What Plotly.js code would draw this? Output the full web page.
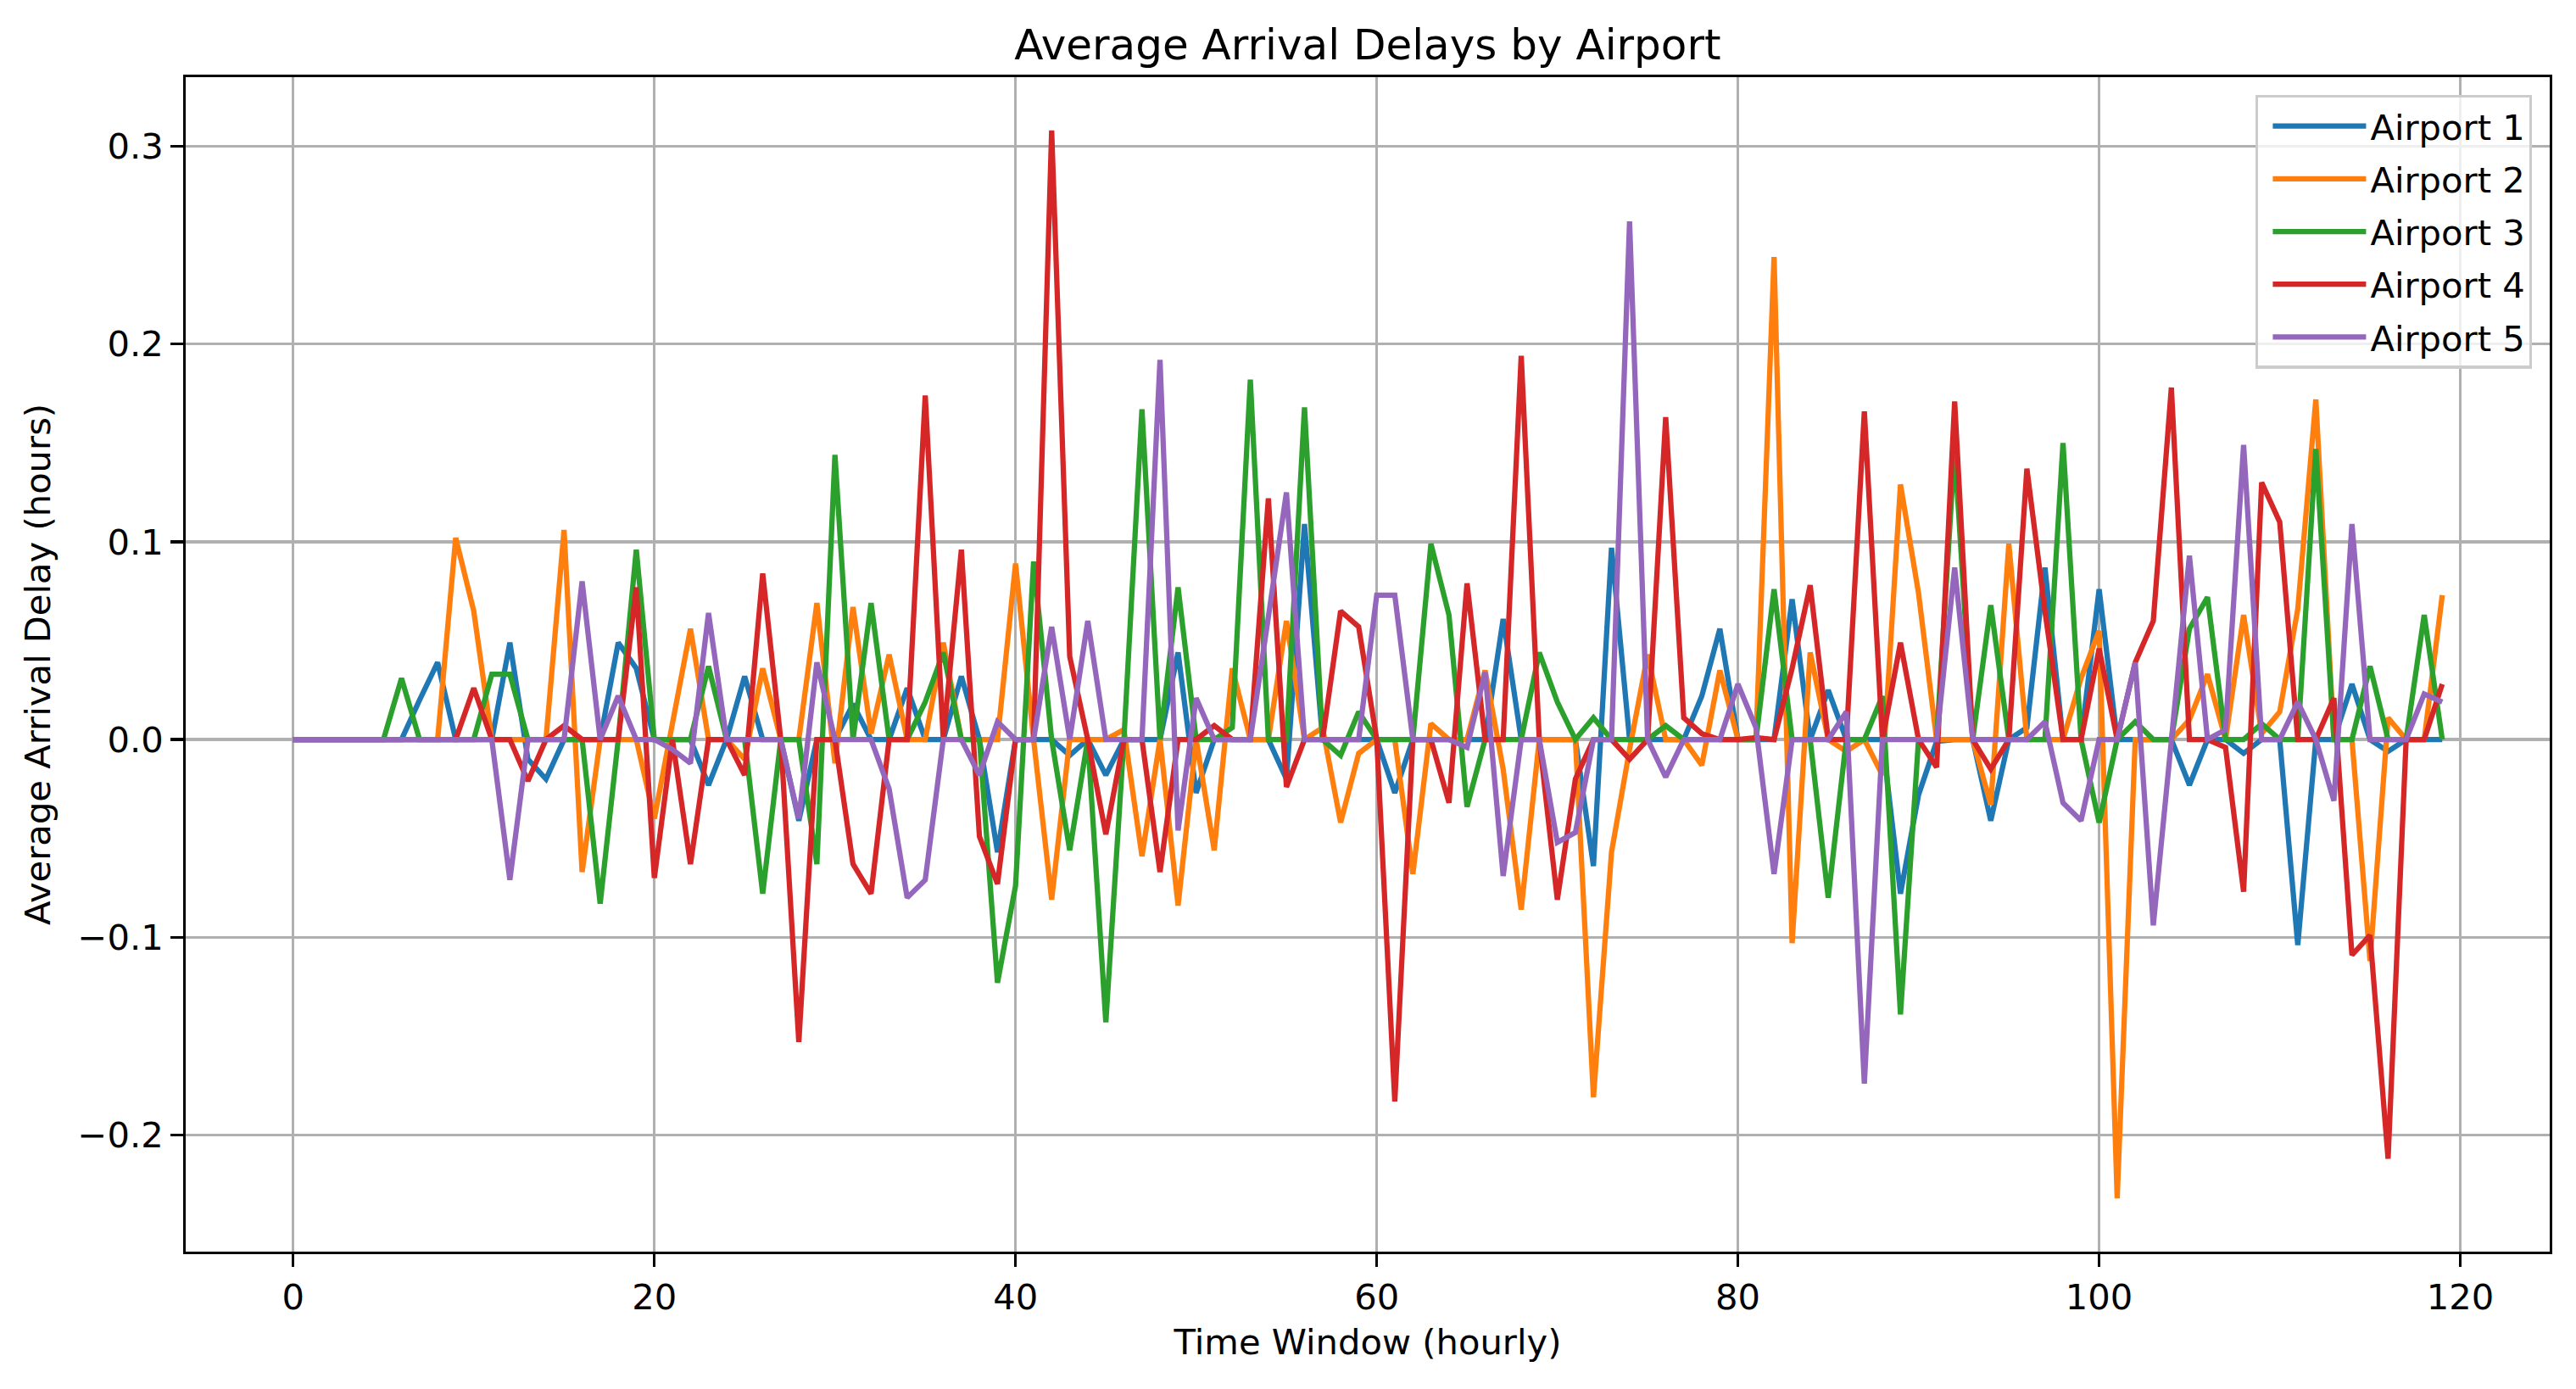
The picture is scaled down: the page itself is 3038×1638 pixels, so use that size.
<!DOCTYPE html>
<html>
<head>
<meta charset="utf-8">
<script src="https://cdn.plot.ly/plotly-3.0.1.min.js"></script>
<style>
  html, body { margin: 0; padding: 0; background: #ffffff; }
  #chart { width: 3038px; height: 1638px; }
</style>
</head>
<body>
<div id="chart"></div>
<script>
// Hourly time windows 0..119
const hours = Array.from({ length: 120 }, (_, i) => i);

const airportNames = ["Airport 1", "Airport 2", "Airport 3", "Airport 4", "Airport 5"];
const airportColors = ["#1f77b4", "#ff7f0e", "#2ca02c", "#d62728", "#9467bd"];

// Average arrival delay (hours) per time window
const airport1 = [
  0, 0, 0, 0, 0, 0, 0, 0.020, 0.039, 0,
  0, 0, 0.049, -0.010, -0.020, 0, 0, 0, 0.049, 0.036,
  0, 0, 0, -0.023, 0, 0.032, 0, 0, -0.041, 0,
  0, 0.018, 0, 0, 0.026, 0, 0, 0.032, 0, -0.057,
  0, 0, 0, -0.008, 0, -0.018, 0, 0, 0, 0.044,
  -0.027, 0, 0, 0, 0, -0.020, 0.109, 0, 0, 0,
  0, -0.027, 0, 0, 0, 0, 0, 0.061, 0, 0,
  0, 0, -0.064, 0.097, 0, 0, 0, 0, 0.022, 0.056,
  0, 0, 0, 0.071, 0, 0.025, 0, 0, 0, -0.078,
  -0.028, -0.001, 0, 0, -0.041, 0, 0.006, 0.087, 0, 0,
  0.076, 0, 0, 0, 0, -0.023, 0, 0, -0.007, 0,
  0, -0.104, 0, 0, 0.028, 0, -0.006, 0, 0, 0
];

const airport2 = [
  0, 0, 0, 0, 0, 0, 0, 0, 0, 0.102,
  0.065, 0, 0, 0, 0, 0.106, -0.067, 0, 0, 0,
  -0.040, 0.008, 0.056, 0, 0, -0.010, 0.036, 0, 0, 0.069,
  -0.012, 0.067, 0.003, 0.043, 0, 0, 0.049, 0, 0, 0,
  0.089, 0, -0.081, 0, 0, 0, 0.005, -0.059, 0, -0.084,
  0, -0.056, 0.036, 0, 0, 0.060, 0, 0.006, -0.042, -0.007,
  0, 0, -0.068, 0.008, 0, 0, 0.035, -0.015, -0.086, 0,
  0, 0, -0.181, -0.057, -0.005, 0.043, 0, 0, -0.013, 0.035,
  0, 0, 0.244, -0.103, 0.044, 0, -0.006, 0, -0.018, 0.129,
  0.074, 0, 0, 0, -0.033, 0.099, 0, 0, 0, 0.031,
  0.055, -0.232, 0, 0, 0, 0.010, 0.033, 0, 0.063, 0.003,
  0.014, 0.066, 0.172, 0, 0, -0.112, 0.011, 0, 0, 0.073
];

const airport3 = [
  0, 0, 0, 0, 0, 0, 0.031, 0, 0, 0,
  0, 0.033, 0.033, 0, 0, 0, 0, -0.083, 0, 0.096,
  0, 0, 0, 0.037, 0, 0, -0.078, 0, 0, -0.063,
  0.144, 0, 0.069, 0, 0, 0.019, 0.044, 0, 0, -0.123,
  -0.074, 0.090, 0, -0.056, 0, -0.143, 0, 0.167, 0, 0.077,
  0, 0, 0.006, 0.182, 0, 0, 0.168, 0, -0.008, 0.014,
  0, 0, 0, 0.099, 0.063, -0.034, 0, 0, 0, 0.044,
  0.019, 0, 0.011, 0, 0, 0, 0.007, 0, 0, 0,
  0, 0, 0.076, 0, 0, -0.080, 0, 0, 0.022, -0.139,
  0, 0, 0.147, 0, 0.068, 0, 0, 0, 0.150, 0,
  -0.042, 0, 0.009, 0, 0, 0.056, 0.072, 0, 0, 0.008,
  0, 0, 0.147, 0, 0, 0.037, 0, 0, 0.063, 0
];

const airport4 = [
  0, 0, 0, 0, 0, 0, 0, 0, 0, 0,
  0.026, 0, 0, -0.021, 0, 0.007, 0, 0, 0, 0.077,
  -0.070, 0, -0.063, 0, 0, -0.018, 0.084, 0, -0.153, 0,
  0, -0.063, -0.078, 0, 0, 0.174, 0, 0.096, -0.049, -0.073,
  0, 0, 0.308, 0.042, 0, -0.048, 0, 0, -0.067, 0,
  0, 0.007, 0, 0, 0.122, -0.024, 0, 0, 0.065, 0.057,
  0, -0.183, 0, 0, -0.032, 0.079, 0, 0, 0.194, 0,
  -0.081, -0.020, 0, 0, -0.010, 0, 0.163, 0.011, 0.003, 0,
  0, 0.001, 0, 0.036, 0.078, 0, 0, 0.166, 0, 0.049,
  0, -0.014, 0.171, 0, -0.015, 0, 0.137, 0.065, 0, 0,
  0.046, 0, 0.039, 0.060, 0.178, 0, 0, -0.004, -0.077, 0.130,
  0.110, 0, 0, 0.021, -0.109, -0.099, -0.212, 0, 0, 0.028
];

const airport5 = [
  0, 0, 0, 0, 0, 0, 0, 0, 0, 0,
  0, 0, -0.071, 0, 0, 0, 0.080, 0, 0.022, 0,
  0, -0.005, -0.012, 0.064, 0, 0, 0, 0, -0.040, 0.039,
  0, 0, 0, -0.025, -0.080, -0.071, 0, 0, -0.018, 0.009,
  0, 0, 0.057, 0, 0.060, 0, 0, 0, 0.192, -0.046,
  0.021, 0, 0, 0, 0.062, 0.125, 0, 0, 0, 0,
  0.073, 0.073, 0, 0, 0, -0.004, 0.034, -0.069, 0, 0,
  -0.052, -0.047, 0, 0, 0.262, 0, -0.019, 0, 0, 0,
  0.028, 0.006, -0.068, 0, 0, 0, 0.014, -0.174, 0, 0,
  0, 0, 0.087, 0, 0, 0, 0, 0.009, -0.032, -0.041,
  0, 0, 0.039, -0.094, 0, 0.093, 0, 0.005, 0.149, 0,
  0, 0.019, 0, -0.031, 0.109, 0, 0, 0, 0.023, 0.019
];

const xTickVals = [0, 20, 40, 60, 80, 100, 120];
const xTickText = ["0", "20", "40", "60", "80", "100", "120"];
const yTickVals = [-0.2, -0.1, 0.0, 0.1, 0.2, 0.3];
const yTickText = ["\u22120.2", "\u22120.1", "0.0", "0.1", "0.2", "0.3"];

const series = [airport1, airport2, airport3, airport4, airport5];

// Sizes in px for a 300 dpi figure (pt * 300 / 72)
const PT = 300 / 72;
const lineW = 1.5 * PT;
const thinW = 0.8 * PT;
const tickLen = 3.5 * PT;
const labelSize = 10 * PT;
const titleSize = 12 * PT;

const traces = series.map((vals, i) => ({
  type: "scatter",
  mode: "lines",
  x: hours,
  y: vals,
  name: airportNames[i],
  legendgroup: "g" + i,
  line: { color: airportColors[i], width: lineW },
  hoverinfo: "x+y+name"
}));

// Axis extents padded by 5% of the data span on each side
const allVals = series.flat();
const yMin = Math.min(...allVals), yMax = Math.max(...allVals);
const yPad = (yMax - yMin) * 0.05;
const xMin = hours[0], xMax = hours[hours.length - 1];
const xPad = (xMax - xMin) * 0.05;

const baseFont = { family: "DejaVu Sans, sans-serif", color: "#000000" };
const gridColor = "#b0b0b0";

const axisCommon = {
  ticks: "outside", ticklen: tickLen, tickwidth: thinW, tickcolor: "#000000",
  tickfont: Object.assign({ size: labelSize }, baseFont),
  showgrid: true, gridcolor: gridColor, gridwidth: thinW,
  zeroline: false,
  showline: true, linecolor: "#000000", linewidth: thinW, mirror: true
};

const layout = {
  width: 3038,
  height: 1638,
  paper_bgcolor: "#ffffff",
  plot_bgcolor: "#ffffff",
  margin: { l: 219, r: 31, t: 91, b: 162, pad: 0 },
  font: Object.assign({ size: labelSize }, baseFont),
  title: {
    text: "Average Arrival Delays by Airport",
    font: Object.assign({ size: titleSize }, baseFont),
    x: 0.5, xref: "paper", xanchor: "center",
    y: 1 - 52 / 1638, yref: "container", yanchor: "middle"
  },
  xaxis: Object.assign({}, axisCommon, {
    range: [xMin - xPad, xMax + xPad],
    tickvals: xTickVals,
    ticktext: xTickText,
    title: { text: "Time Window (hourly)", font: Object.assign({ size: labelSize }, baseFont), standoff: 16 }
  }),
  yaxis: Object.assign({}, axisCommon, {
    range: [yMin - yPad, yMax + yPad],
    tickvals: yTickVals,
    ticktext: yTickText,
    title: { text: "Average Arrival Delay (hours)", font: Object.assign({ size: labelSize }, baseFont), standoff: 20 }
  }),
  showlegend: true,
  legend: {
    x: 0.9925, y: 0.985, xanchor: "right", yanchor: "top",
    bgcolor: "rgba(255,255,255,0.8)",
    bordercolor: "#cccccc", borderwidth: thinW,
    font: Object.assign({ size: labelSize }, baseFont),
    tracegroupgap: 5,
    itemwidth: 110,
    indentation: 12
  }
};

Plotly.newPlot("chart", traces, layout, { displayModeBar: false, staticPlot: true });
</script>
</body>
</html>
